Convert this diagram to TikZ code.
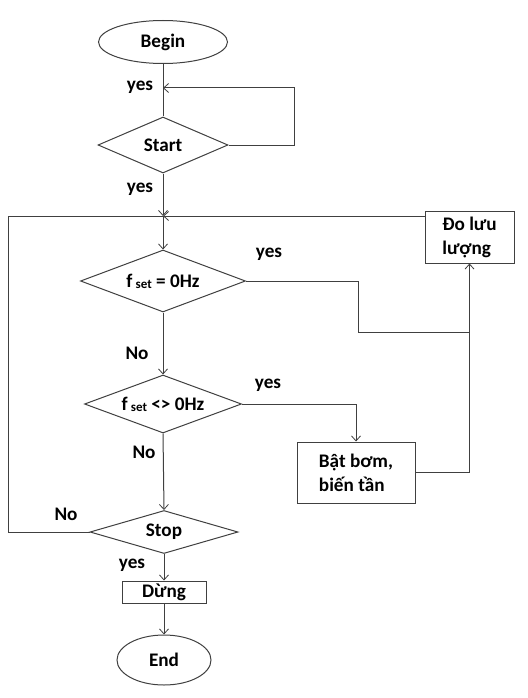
\documentclass[tikz,border=0pt]{standalone}
\usepackage{fontspec}
\setmainfont{Carlito}
\usetikzlibrary{shapes.geometric,arrows.meta}
\definecolor{ln}{RGB}{64,64,64}
\newcommand{\fsub}{f\,\raisebox{-1pt}{\fontsize{13}{13}\selectfont set}}
\begin{document}
\begin{tikzpicture}[x=1pt,y=-1pt,
  every node/.style={font=\fontsize{19.2}{24}\selectfont\bfseries, text=black},
  shp/.style={draw=ln, line width=1pt, inner sep=0pt},
  term/.style={shp, ellipse},
  dec/.style={shp, diamond, aspect=2.6},
  proc/.style={shp, rectangle},
  lbl/.style={inner sep=0pt},
  conn/.style={draw=ln, line width=1pt},
  arr/.style={conn, -{Straight Barb[length=5pt,width=9pt,line width=0.8pt]}}]
\fill[white] (0,0) rectangle (527,698);
\useasboundingbox (0,0) rectangle (527,698);

% nodes
\node[term, minimum width=129pt, minimum height=43pt] (begin) at (163,42) {Begin};
\node[dec, minimum width=130pt, minimum height=56pt] (start) at (163,145) {Start};
\node[dec, minimum width=165pt, minimum height=62pt] (d1) at (163,281) {\fsub{} = 0Hz};
\node[dec, minimum width=157pt, minimum height=58pt] (d2) at (163,404) {\fsub{} <> 0Hz};
\node[dec, minimum width=148pt, minimum height=43pt] (stop) at (164,532) {Stop};
\node[proc, minimum width=84pt, minimum height=22pt] (dung) at (164,592) {Dừng};
\node[term, minimum width=94pt, minimum height=50pt] (endn) at (164,660) {End};
\node[proc, minimum width=89pt, minimum height=52pt, align=left] (do) at (469.5,237) {Đo lưu\\lượng};
\node[proc, minimum width=118pt, minimum height=61pt, align=left] (bat) at (356,472.5) {Bật bơm,\\biến tần};

% helper coordinates
\coordinate (jn) at (163,216);
\coordinate (lp) at (294,88);
\coordinate (lpin) at (163,88);
\coordinate (c1) at (358,332);
\coordinate (c2) at (8,216);

% labels
\node[lbl] (y1) at (140,87) {yes};
\node[lbl] (y2) at (140,189) {yes};
\node[lbl] (y3) at (269,254) {yes};
\node[lbl] (n1) at (137,353) {No};
\node[lbl] (y4) at (268,385) {yes};
\node[lbl] (n2) at (144,452) {No};
\node[lbl] (n3) at (66,514) {No};
\node[lbl] (y5) at (132,565) {yes};

% connectors
\draw[conn] (begin.south) -- (start.north);
\draw[arr] (start.east) -| (lp) -- (lpin);
\draw[arr] (start.south) -- (jn);
\draw[arr] (jn -| do.west) -- (jn);
\draw[conn] (stop.west) -| (c2) -- (jn);
\draw[arr] (jn) -- (d1.north);
\draw[conn] (d1.east) -| (c1) -- (c1 -| do.south);
\draw[arr] (bat.east) -| (do.south);
\draw[arr] (d1.south) -- (d2.north);
\draw[arr] (d2.east) -| (bat.north);
\draw[arr] (d2.south) -- (stop.north);
\draw[arr] (stop.south) -- (dung.north);
\draw[arr] (dung.south) -- (endn.north);
\end{tikzpicture}
\end{document}
